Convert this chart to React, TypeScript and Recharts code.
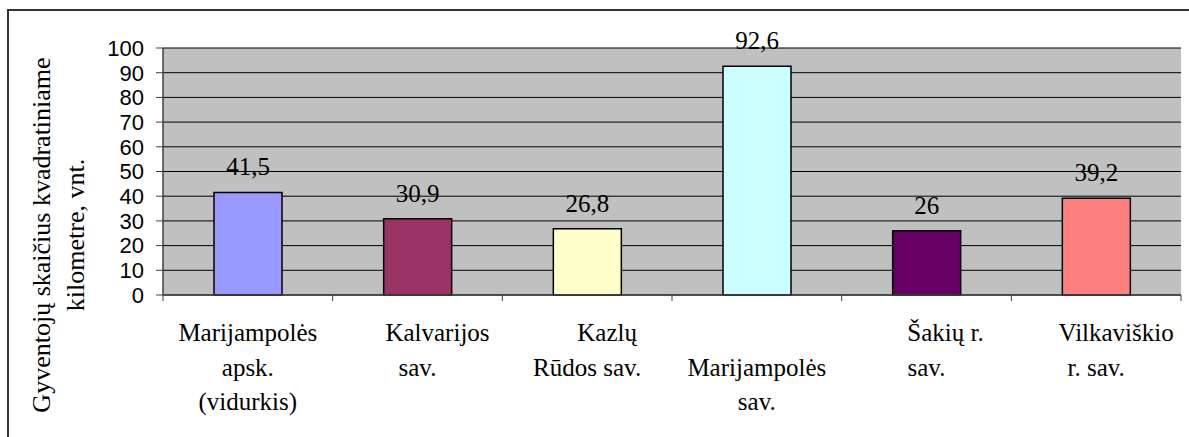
import { Bar, BarChart, CartesianGrid, Cell, LabelList, XAxis, YAxis } from "recharts"

// population density per km², Marijampolė county
const categories = [
  "Marijampolės apsk. (vidurkis)",
  "Kalvarijos sav.",
  "Kazlų Rūdos sav.",
  "Marijampolės sav.",
  "Šakių r. sav.",
  "Vilkaviškio r. sav.",
]
const tickLines = [
  ["Marijampolės", "apsk.", "(vidurkis)"],
  ["Kalvarijos", "sav."],
  ["Kazlų", "Rūdos sav."],
  ["", "Marijampolės", "sav."],
  ["Šakių r.", "sav."],
  ["Vilkaviškio", "r. sav."],
]
const density = [41.5, 30.9, 26.8, 92.6, 26, 39.2]
const yTicks = [0, 10, 20, 30, 40, 50, 60, 70, 80, 90, 100]

const barColors = ["#9999FF", "#993366", "#FFFFCC", "#CCFFFF", "#660066", "#FF8080"]
// excel wraps the first line a bit off-centre
const lineShift = [[0, 0, 0], [20, 0], [20, 0], [0, 0, 0], [19, 0], [20, 0]]

const data = categories.map((name, i) => ({ name, value: density[i] }))

const W = 1189
const H = 437
const margin = { top: 48, right: 8, bottom: 0, left: 103 }
const yAxisWidth = 60
const band = (W - margin.left - margin.right - yAxisWidth) / categories.length

const serif = "Liberation Serif"
const sans = "Liberation Sans"

function CategoryTick(props: any) {
  const { x, y, index } = props
  const lines = tickLines[index] || []
  return (
    <g>
      <line x1={x - band / 2} x2={x - band / 2} y1={y} y2={y + 6} stroke="#404040" />
      {index === categories.length - 1 && (
        <line x1={x + band / 2} x2={x + band / 2} y1={y} y2={y + 6} stroke="#404040" />
      )}
      {lines.map((t: string, i: number) => (
        <text
          key={i}
          x={x + (lineShift[index]?.[i] || 0)}
          y={y + 46 + i * 34.5}
          textAnchor="middle"
          fontFamily={serif}
          fontSize={25}
          fill="#000"
        >
          {t}
        </text>
      ))}
    </g>
  )
}

function AxisTitle() {
  return (
    <g>
      <text
        x={49.5}
        y={235}
        textAnchor="middle"
        fontFamily={serif}
        fontSize={26}
        fill="#000"
        transform="rotate(-90, 49.5, 235)"
      >
        Gyventojų skaičius kvadratiniame
      </text>
      <text
        x={84}
        y={235}
        textAnchor="middle"
        fontFamily={serif}
        fontSize={26}
        fill="#000"
        transform="rotate(-90, 84, 235)"
      >
        kilometre, vnt.
      </text>
    </g>
  )
}

function ValueLabel(props: any) {
  const { x, y, width, value } = props
  return (
    <text x={x + width / 2} y={y - 17} textAnchor="middle" fontFamily={serif} fontSize={25} fill="#000">
      {String(value).replace(".", ",")}
    </text>
  )
}

export default function App() {
  return (
    <div
      style={{
        position: "absolute",
        left: 0,
        top: 0,
        width: W,
        height: H,
        overflow: "hidden",
        background: "#fff",
        fontFamily: serif,
      }}
    >
      <div
        style={{
          position: "absolute",
          left: 7,
          top: 9,
          width: W + 50,
          height: H + 50,
          borderLeft: "2px solid #333",
          borderTop: "2px solid #333",
        }}
      />
      <div style={{ position: "absolute", left: 0, top: 0 }}>
        <BarChart width={W} height={H} data={data} margin={margin} style={{ fontFamily: serif }}>
          <CartesianGrid vertical={false} stroke="#000" fill="#C0C0C0" />
          <XAxis
            dataKey="name"
            height={142}
            axisLine={{ stroke: "#404040", strokeWidth: 1.5 }}
            tickLine={false}
            tickSize={0}
            tickMargin={0}
            interval={0}
            tick={<CategoryTick />}
          />
          <XAxis
            xAxisId="top"
            dataKey="name"
            orientation="top"
            height={0}
            tick={false}
            tickLine={false}
            axisLine={{ stroke: "#808080", strokeWidth: 2 }}
          />
          <YAxis
            width={yAxisWidth}
            domain={[0, 100]}
            ticks={yTicks}
            interval={0}
            tickSize={7}
            tickMargin={12}
            axisLine={{ stroke: "#404040", strokeWidth: 1.5 }}
            tickLine={{ stroke: "#404040" }}
            tick={{ fill: "#000", fontSize: 22, fontFamily: sans }}
            label={<AxisTitle />}
          />
          <YAxis
            yAxisId="right"
            orientation="right"
            width={0}
            domain={[0, 100]}
            tick={false}
            tickLine={false}
            axisLine={{ stroke: "#808080", strokeWidth: 2 }}
          />
          <Bar dataKey="value" barSize={68} stroke="#000" strokeWidth={1.5} isAnimationActive={false}>
            {data.map((d, i) => (
              <Cell key={d.name} fill={barColors[i]} />
            ))}
            <LabelList dataKey="value" content={<ValueLabel />} />
          </Bar>
        </BarChart>
      </div>
    </div>
  )
}
